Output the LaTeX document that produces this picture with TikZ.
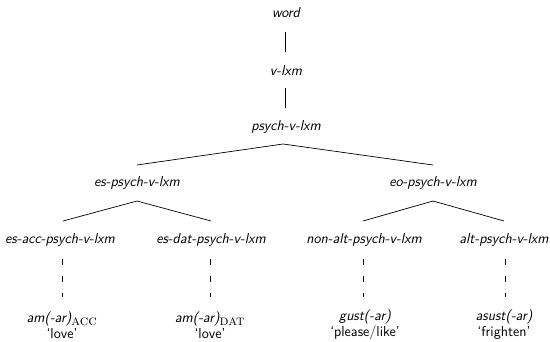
\documentclass[tikz,border=0pt]{standalone}
\begin{document}
\begin{tikzpicture}[x=1pt,y=-1pt,
  lbl/.style={font=\fontsize{14.4}{15}\sffamily\itshape, inner sep=0pt, anchor=center},
  leaf/.style={font=\fontsize{14.4}{16}\sffamily, inner sep=0pt, align=center, anchor=center},
  edge/.style={draw=black, line width=0.7pt},
  dedge/.style={draw=black, line width=0.8pt, dash pattern=on 5.5pt off 11.5pt}]
\useasboundingbox (0,0) rectangle (550,341);
\node[lbl] (word) at (286,13) {word};
\node[lbl] (vlxm) at (286,70) {v-lxm};
\node[lbl] (psych) at (286,127) {psych-v-lxm};
\node[lbl] (es) at (137,183) {es-psych-v-lxm};
\node[lbl] (eo) at (433,183) {eo-psych-v-lxm};
\node[lbl] (esacc) at (60,240) {es-acc-psych-v-lxm};
\node[lbl] (esdat) at (211,240) {es-dat-psych-v-lxm};
\node[lbl] (nonalt) at (364,240) {non-alt-psych-v-lxm};
\node[lbl] (alt) at (504,240) {alt-psych-v-lxm};
\node[leaf] (am1) at (62,325) {\itshape am(-ar)$_{\textrm{\normalfont\scshape acc}}$\\`love'};
\node[leaf] (am2) at (210,325) {\itshape am(-ar)$_{\textrm{\normalfont\scshape dat}}$\\`love'};
\node[leaf] (gust) at (365,325) {\itshape gust(-ar)\\`please/like'};
\node[leaf] (asust) at (504,325) {\itshape asust(-ar)\\`frighten'};
\coordinate (w1) at (285,32); \coordinate (w2) at (285,52);
\coordinate (v1) at (285,88); \coordinate (v2) at (285,108);
\coordinate (pa) at (283,144);
\coordinate (esl) at (137,165); \coordinate (eol) at (433,165);
\coordinate (esa) at (137,201); \coordinate (eoa) at (433,201);
\coordinate (accl) at (63,221); \coordinate (datl) at (211,221);
\coordinate (nonl) at (363,221); \coordinate (altl) at (504,221);
\draw[edge] (w1) -- (w2);
\draw[edge] (v1) -- (v2);
\draw[edge] (esl) -- (pa) -- (eol);
\draw[edge] (accl) -- (esa) -- (datl);
\draw[edge] (nonl) -- (eoa) -- (altl);
\coordinate (d1a) at (62,259); \coordinate (d1b) at (62,297);
\coordinate (d2a) at (210,259); \coordinate (d2b) at (210,297);
\coordinate (d3a) at (363,259); \coordinate (d3b) at (363,297);
\coordinate (d4a) at (505,259); \coordinate (d4b) at (505,297);
\draw[dedge] (d1a) -- (d1b);
\draw[dedge] (d2a) -- (d2b);
\draw[dedge] (d3a) -- (d3b);
\draw[dedge] (d4a) -- (d4b);
\end{tikzpicture}
\end{document}
